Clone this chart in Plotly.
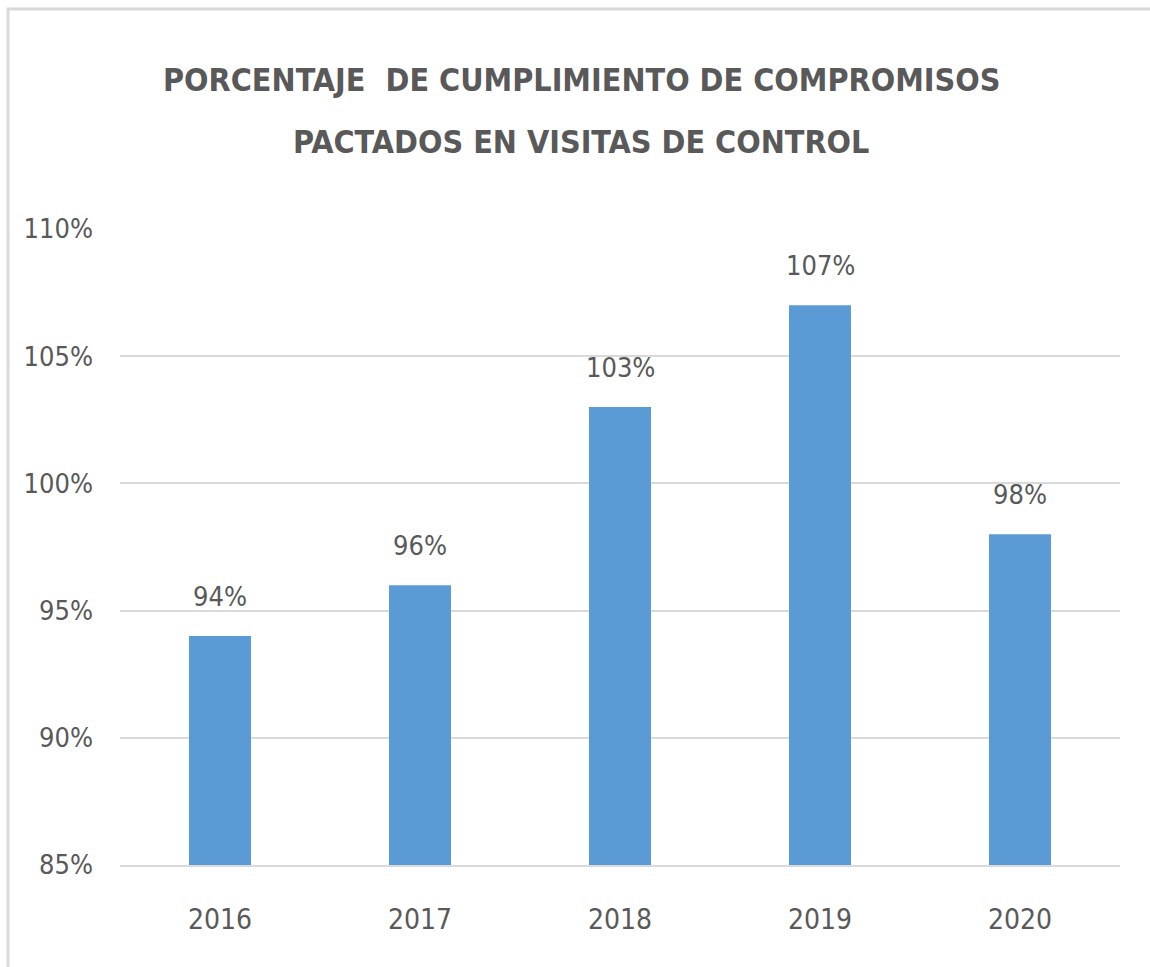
import plotly.graph_objects as go

years = ["2016", "2017", "2018", "2019", "2020"]
values = [0.94, 0.96, 1.03, 1.07, 0.98]
labels = ["94%", "96%", "103%", "107%", "98%"]
title_lines = ["PORCENTAJE  DE CUMPLIMIENTO DE COMPROMISOS", "PACTADOS EN VISITAS DE CONTROL"]

W, H = 1150, 967
L, R, T, B = 120, 30, 229, 102
pw, ph = W - L - R, H - T - B

FONT = "DejaVu Sans Condensed"
GRAY = "#595959"

fig = go.Figure(go.Bar(
    x=years, y=values,
    marker=dict(color="#5b9bd5", line=dict(width=0)),
    width=0.31, hoverinfo="skip",
))

# data labels (category axis positions are the category indices)
for i, (yv, t) in enumerate(zip(values, labels)):
    fig.add_annotation(x=i, y=yv, text=t, showarrow=False, yanchor="bottom",
                       yshift=22, font=dict(family=FONT, size=27, color=GRAY))

# title, two lines
for line, yc in zip(title_lines, [80, 142]):
    fig.add_annotation(xref="paper", yref="paper", x=(581 - L) / pw, xanchor="center",
                       y=1 + (T - yc) / ph, yanchor="middle", showarrow=False,
                       text="<b>" + line + "</b>",
                       font=dict(family=FONT, size=32, color=GRAY))

fig.update_layout(
    width=W, height=H,
    margin=dict(l=L, r=R, t=T, b=B, autoexpand=False),
    paper_bgcolor="white", plot_bgcolor="white",
    showlegend=False,
    yaxis=dict(range=[0.85, 1.10], dtick=0.05, tickformat=".0%",
               showgrid=True, gridcolor="#d9d9d9", gridwidth=2,
               zeroline=False, showline=False, ticks="",
               ticklabelstandoff=26,
               tickfont=dict(family=FONT, size=27, color=GRAY)),
    xaxis=dict(type="category", range=[-0.5, len(years) - 0.5],
               showgrid=False, showline=True, linecolor="#d9d9d9", linewidth=2,
               ticks="", ticklabelstandoff=28,
               tickfont=dict(family=FONT, size=28, color=GRAY)),
    shapes=[dict(type="rect", xref="paper", yref="paper",
                 x0=(8 - L) / pw, x1=(W + 20 - L) / pw,
                 y0=-(B + 20) / ph, y1=1 + (T - 9) / ph,
                 line=dict(color="#d9d9d9", width=3), fillcolor="rgba(0,0,0,0)", layer="below")],
)

fig.write_html("out.html", config={"displayModeBar": False},
               post_script="document.body.style.margin='0';document.body.style.overflow='hidden';")
